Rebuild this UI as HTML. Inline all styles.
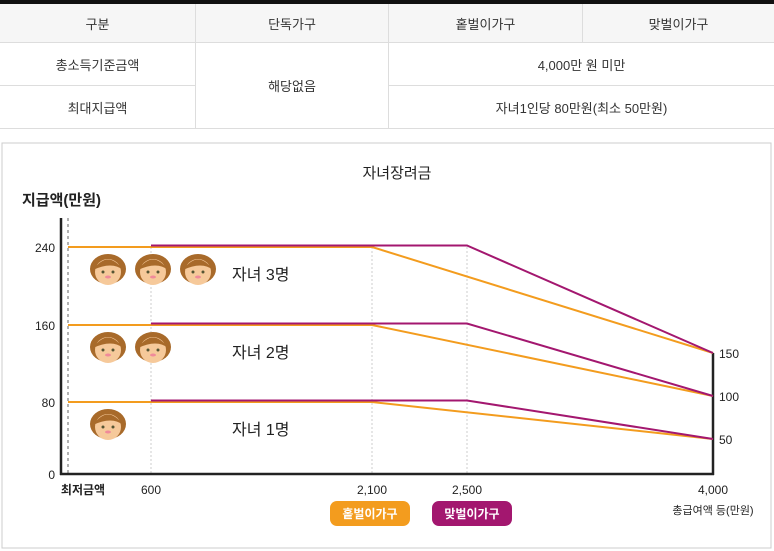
<!DOCTYPE html>
<html><head><meta charset="utf-8">
<style>
body{margin:0;width:774px;height:551px;background:#fff;font-family:"Liberation Sans","Noto Sans CJK KR",sans-serif;overflow:hidden;position:relative}
table{position:absolute;left:0;top:0;width:774px;border-collapse:collapse;border-top:4px solid #111;font-size:13px;color:#333}
td{border:1px solid #ddd;text-align:center;height:42px;padding:0}
tr.h td{background:#f6f6f6;height:38px}
td:first-child{border-left:none}td:last-child{border-right:none}
</style></head><body>
<table>
<tr class="h"><td style="width:195px">구분</td><td style="width:192px">단독가구</td><td style="width:193px">홑벌이가구</td><td>맞벌이가구</td></tr>
<tr><td>총소득기준금액</td><td rowspan="2">해당없음</td><td colspan="2">4,000만 원 미만</td></tr>
<tr><td>최대지급액</td><td colspan="2">자녀1인당 80만원(최소 50만원)</td></tr>
</table>
<svg id="c" width="774" height="551" style="position:absolute;left:0;top:0" font-family="Liberation Sans, Noto Sans CJK KR, sans-serif"></svg>
<script>
const xTicks=[0,600,2100,2500,4000];
const xTickLabels=["최저금액","600","2,100","2,500","4,000"];
const yTicks=[0,80,160,240];
const rightTicks=[50,100,150];
const children=[1,2,3];
const maxValues=[80,160,240];
const endValues=[50,100,150];
const singleFlatEnd=2100;
const dualStart=600;
const dualFlatEnd=2500;
const incomeMax=4000;

const xd=[0,600,2100,2500,4000],xp=[68,151,372,467,713];
const yd=[0,50,80,100,150,160,240],yp=[474,439,402,396,353,325,247];
function interp(v,d,p){for(let i=0;i<d.length-1;i++){if(v<=d[i+1]){return p[i]+(v-d[i])/(d[i+1]-d[i])*(p[i+1]-p[i]);}}return p[p.length-1];}
const X=v=>interp(v,xd,xp),Y=v=>interp(v,yd,yp);
const s=document.getElementById('c'),NS="http://www.w3.org/2000/svg";
function el(t,a,txt){const e=document.createElementNS(NS,t);for(const k in a)e.setAttribute(k,a[k]);if(txt!==undefined)e.textContent=txt;s.appendChild(e);return e;}
let e;
e=el('rect',{x:2,y:143,width:769,height:405,fill:'none',stroke:'#ccc'});

e=el('text',{x:397,y:178,'text-anchor':'middle','font-size':15,fill:'#222'},'자녀장려금');

e=el('text',{x:22,y:205,'font-size':15,'font-weight':'bold',fill:'#222'},'지급액(만원)');

// gridlines
xTicks.forEach((t,i)=>{if(t===incomeMax)return;e=el('line',{x1:X(t),x2:X(t),y1:i==0?218:Y(maxValues[2]),y2:474,stroke:i==0?'#999':'#ccc','stroke-dasharray':i==0?'3,3':'2,2','stroke-width':i==0?1.5:1});
});
// axes
e=el('line',{x1:61,x2:61,y1:218,y2:475,stroke:'#222','stroke-width':2.5});

e=el('line',{x1:60,x2:714,y1:474,y2:474,stroke:'#222','stroke-width':2.5});

e=el('line',{x1:713,x2:713,y1:Y(endValues[2]),y2:475,stroke:'#222','stroke-width':2.5});

yTicks.forEach(t=>{e=el('text',{x:55,y:Y(t)+5,'text-anchor':'end','font-size':12,fill:'#222'},String(t));
});
rightTicks.forEach(t=>{e=el('text',{x:719,y:Y(t)+5,'font-size':12,fill:'#222'},String(t));
});
xTickLabels.forEach((l,i)=>{const x=i==0?83:X(xTicks[i]);e=el('text',{x:x,y:494,'text-anchor':'middle','font-size':12,fill:'#222','font-weight':i==0?'bold':'normal'},l);
});
e=el('text',{x:713,y:514,'text-anchor':'middle','font-size':11,fill:'#222'},'총급여액 등(만원)');

// series
children.forEach((c,i)=>{
 const m=maxValues[i],en=endValues[i];
 e=el('polyline',{points:[[X(0),Y(m)],[X(singleFlatEnd),Y(m)],[X(incomeMax),Y(en)]].map(p=>p.join(',')).join(' '),fill:'none',stroke:'#f39c1e','stroke-width':2});
 
 e=el('polyline',{points:[[X(dualStart),Y(m)-1.5],[X(dualFlatEnd),Y(m)-1.5],[X(incomeMax),Y(en)]].map(p=>p.join(',')).join(' '),fill:'none',stroke:'#a3176f','stroke-width':2});
 
 e=el('text',{x:232,y:Y(m)+33,'font-size':16,fill:'#222'},'자녀 '+c+'명');
 
 for(let k=0;k<c;k++){
  const cx=108+k*45,cy=Y(m)+24;
  const g=document.createElementNS(NS,'g');s.appendChild(g);
  
  g.innerHTML=`<ellipse cx="${cx}" cy="${cy-2}" rx="18" ry="15" fill="#a86a2a"/><circle cx="${cx}" cy="${cy+1}" r="13" fill="#f6c99a"/><path d="M${cx-15} ${cy-1} Q${cx} ${cy-22} ${cx+15} ${cy-1} Q${cx+4} ${cy-10} ${cx-15} ${cy-1}Z" fill="#a86a2a"/><circle cx="${cx-5}" cy="${cy+1}" r="1.5" fill="#553"/><circle cx="${cx+5}" cy="${cy+1}" r="1.5" fill="#553"/><ellipse cx="${cx}" cy="${cy+6}" rx="3" ry="1.5" fill="#f08a9a"/>`;
 }
});
// legend
[["홑벌이가구","#f39c1e",330],["맞벌이가구","#a3176f",432]].forEach(([l,c,x])=>{
 e=el('rect',{x:x,y:501,width:80,height:25,rx:7,fill:c});
 
 e=el('text',{x:x+40,y:518,'text-anchor':'middle','font-size':12,'font-weight':'bold',fill:'#fff'},l);
 
});
</script>
</body></html>
